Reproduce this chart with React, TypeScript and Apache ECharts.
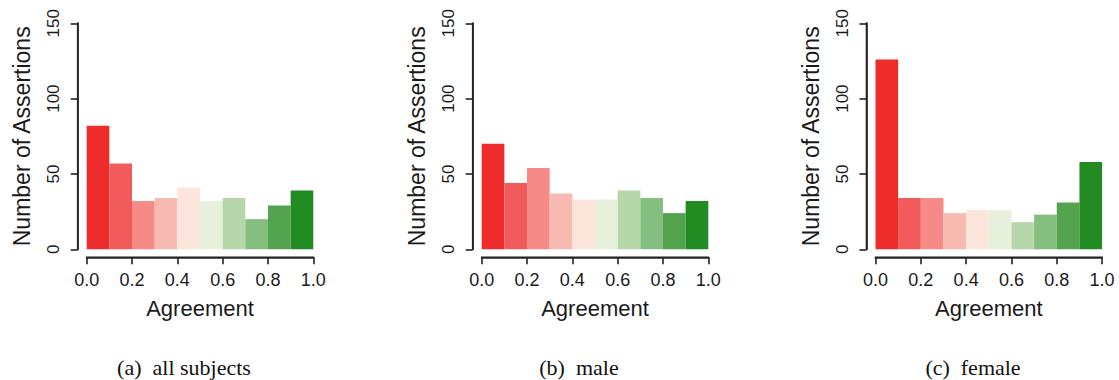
import React, { useEffect, useRef } from "react";
import * as echarts from "echarts";

const binStarts = [0.0, 0.1, 0.2, 0.3, 0.4, 0.5, 0.6, 0.7, 0.8, 0.9];
const binEnds = [0.1, 0.2, 0.3, 0.4, 0.5, 0.6, 0.7, 0.8, 0.9, 1.0];
const allSubjects = [82, 57, 32, 34, 41, 32, 34, 20, 29, 39];
const male = [70, 44, 54, 37, 33, 33, 39, 34, 24, 32];
const female = [126, 34, 34, 24, 26, 26, 18, 23, 31, 58];
const binColors = [
  "#EE2C2C", "#F25B5B", "#F58A86", "#F8B9B0", "#FCE6DC",
  "#E6F0DA", "#B6D7AA", "#85BF7F", "#54A44F", "#228B22",
];
const panelSeries = [allSubjects, male, female];
const captions = ["(a)  all subjects", "(b)  male", "(c)  female"];
const xTitle = "Agreement";
const yTitle = "Number of Assertions";
const xTicks = [0, 0.2, 0.4, 0.6, 0.8, 1.0];
const yTicks = [0, 50, 100, 150];

const gridLefts = [86.7, 481.7, 875.5];
const gridWidth = 226.6;
const gridTop = 23.3;
const gridHeight = 226;
const captionCenters = [184, 579, 973];
const xOffset = 8;
const yOffset = 9;
const tickLen = 7;
const lw = 1.6;

const sans = "'Liberation Sans', Arial, Helvetica, sans-serif";
const serif = "'Liberation Serif', 'Times New Roman', serif";
const ink = "#1a1a1a";
const lineCol = "#222222";

export default function App() {
  const ref = useRef<HTMLDivElement>(null);
  useEffect(() => {
    if (!ref.current) return;
    const chart = echarts.init(ref.current, undefined, { renderer: "svg" });
    const grids = gridLefts.map((l) => ({
      left: l,
      top: gridTop,
      width: gridWidth,
      height: gridHeight,
      containLabel: false,
    }));
    const xAxes = gridLefts.map((_, i) => ({
      type: "value",
      gridIndex: i,
      min: xTicks[0],
      max: xTicks[xTicks.length - 1],
      interval: 0.2,
      position: "bottom",
      offset: xOffset,
      name: xTitle,
      nameLocation: "middle",
      nameGap: 40,
      nameTextStyle: { fontFamily: sans, fontSize: 22, color: ink },
      axisLine: { show: true, onZero: false, lineStyle: { color: lineCol, width: lw } },
      axisTick: { show: true, length: tickLen, lineStyle: { color: lineCol, width: lw } },
      axisLabel: {
        fontFamily: sans,
        fontSize: 18,
        color: ink,
        margin: 14,
        formatter: (v: number) => v.toFixed(1),
      },
      splitLine: { show: false },
    }));
    const yAxes = gridLefts.map((_, i) => ({
      type: "value",
      gridIndex: i,
      min: yTicks[0],
      max: yTicks[yTicks.length - 1],
      interval: 50,
      position: "left",
      offset: yOffset,
      name: yTitle,
      nameLocation: "middle",
      nameGap: 44,
      nameRotate: 90,
      nameTextStyle: { fontFamily: sans, fontSize: 23, color: ink },
      axisLine: { show: true, onZero: false, lineStyle: { color: lineCol, width: lw } },
      axisTick: { show: true, length: tickLen, lineStyle: { color: lineCol, width: lw } },
      axisLabel: {
        fontFamily: sans,
        fontSize: 17,
        color: ink,
        rotate: 90,
        margin: 16,
      },
      splitLine: { show: false },
    }));
    const series = panelSeries.map((vals, i) => ({
      type: "custom",
      xAxisIndex: i,
      yAxisIndex: i,
      encode: { x: [0, 1], y: 2 },
      data: vals.map((v, j) => [binStarts[j], binEnds[j], v, j]),
      renderItem: (params: any, api: any) => {
        const s = api.coord([api.value(0), 0]);
        const e = api.coord([api.value(1), api.value(2)]);
        return {
          type: "rect",
          shape: { x: s[0], y: e[1], width: e[0] - s[0], height: s[1] - e[1] },
          style: { fill: binColors[api.value(3)] },
        };
      },
    }));
    const captionGraphics = captions.map((c, i) => ({
      type: "text",
      x: captionCenters[i],
      y: 367,
      style: {
        text: c,
        font: `22px ${serif}`,
        fill: "#111",
        textAlign: "center",
        textVerticalAlign: "middle",
      },
    }));
    chart.setOption({
      animation: false,
      backgroundColor: "#ffffff",
      grid: grids,
      xAxis: xAxes,
      yAxis: yAxes,
      series,
      graphic: captionGraphics,
    });
    // axis lines as filled strips, placed from the grid's own pixel conversion
    const strips: any[] = [];
    const strip = (x: number, y: number, w: number, h: number) =>
      strips.push({ type: "rect", shape: { x, y, width: w, height: h }, style: { fill: lineCol }, z: 10 });
    gridLefts.forEach((_, i) => {
      const finder = { gridIndex: i };
      const p0 = chart.convertToPixel(finder, [xTicks[0], yTicks[0]]) as number[];
      const p1 = chart.convertToPixel(finder, [xTicks[xTicks.length - 1], yTicks[yTicks.length - 1]]) as number[];
      if (!p0 || !p1) return;
      const ax = p0[0] - yOffset;
      const ay = p0[1] + xOffset;
      strip(ax - lw / 2, p1[1] - lw / 2, lw, p0[1] - p1[1] + lw);
      strip(p0[0] - lw / 2, ay - lw / 2, p1[0] - p0[0] + lw, lw);
    });
    chart.setOption({ graphic: [...captionGraphics, ...strips] });
    return () => chart.dispose();
  }, []);
  return (
    <div
      ref={ref}
      style={{ position: "fixed", left: 0, top: 0, width: 1119, height: 380 }}
    />
  );
}
